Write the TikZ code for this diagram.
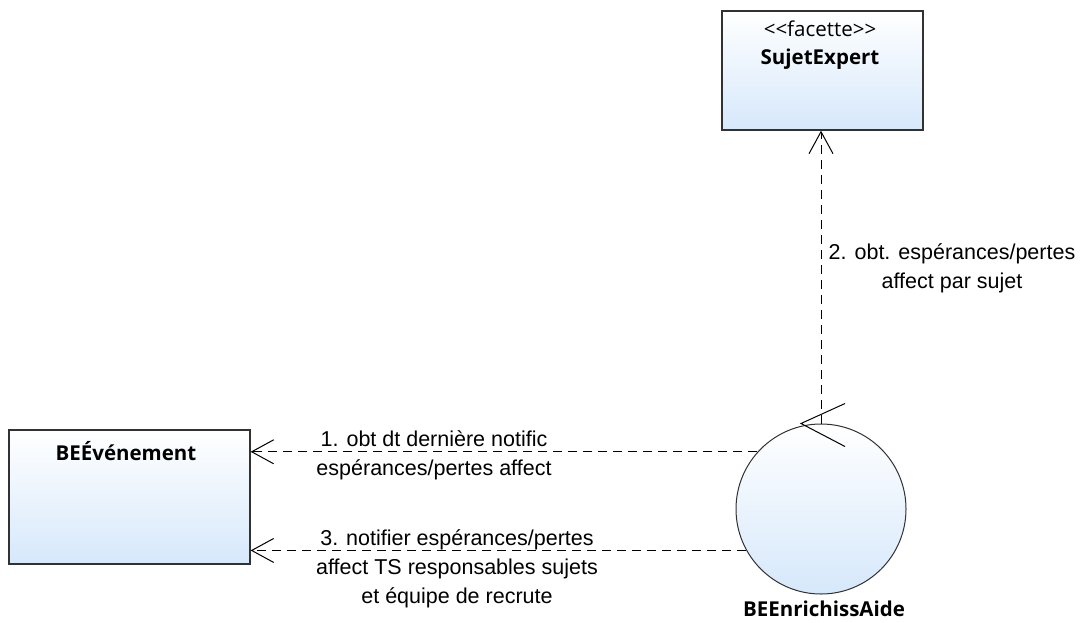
\documentclass[tikz,border=0pt]{standalone}
\usepackage{fontspec}
\setmainfont{Liberation Sans}
\newfontfamily\umlfont{Open Sans}
\usetikzlibrary{arrows.meta, positioning, calc}

\definecolor{umlblue}{RGB}{214,232,251}
\definecolor{umlline}{RGB}{50,50,50}

\begin{document}
\begin{tikzpicture}[x=1pt, y=-1pt,
  dep/.style={dash pattern=on 9pt off 6pt, line width=1pt, -{Straight Barb[length=22pt, width=24pt, line width=1pt]}},
  classbox/.style={draw=umlline, line width=1.3pt, rectangle, top color=white, bottom color=umlblue, inner sep=0pt},
  ctlbox/.style={draw=umlline, line width=1pt, circle, minimum size=170pt, top color=white, bottom color=umlblue, inner sep=0pt},
  boxname/.style={font=\umlfont\bfseries\fontsize{20.5}{24}\selectfont},
  stereo/.style={font=\umlfont\fontsize{20.5}{24}\selectfont},
  msg/.style={align=center, font=\fontsize{21.5}{29}\selectfont}
]
  \useasboundingbox (0,0) rectangle (1081,622);

  % facade
  \node (expert) [classbox, minimum width=201pt, minimum height=119pt] at (822.5,70.5) {};
  \node (expertst) [stereo] at (820,29) {<<facette>>};
  \node (expertname) [boxname] at (820,59) {SujetExpert};

  % entity
  \node (evt) [classbox, minimum width=241pt, minimum height=134pt] at (129.5,497) {};
  \node (evtname) [boxname] at (126,451) {BEÉvénement};

  % control
  \node (ctl) [ctlbox] at (821,509) {};
  \node (ctlname) [boxname] at (824,609) {BEEnrichissAide};
  \draw[line width=1pt] ($(ctl.north)+(24,-20)$) -- ($(ctl.north)+(-20,0)$) -- ($(ctl.north)+(24,23)$);

  % messages
  \draw[dep] (ctl.north) -- (ctl.north |- expert.south);
  \draw[dep] (ctl.138) -- (ctl.138 -| evt.east);
  \draw[dep] (ctl.209) -- (ctl.209 -| evt.east);

  \node (msg1) [msg] at (434,455) {1. obt dt dernière notific\\espérances/pertes affect};
  \node (msg2) [msg] at (952,268) {2. obt. espérances/pertes\\affect par sujet};
  \node (msg3) [msg] at (457,569) {3. notifier espérances/pertes\\affect TS responsables sujets\\et équipe de recrute};

\end{tikzpicture}
\end{document}
